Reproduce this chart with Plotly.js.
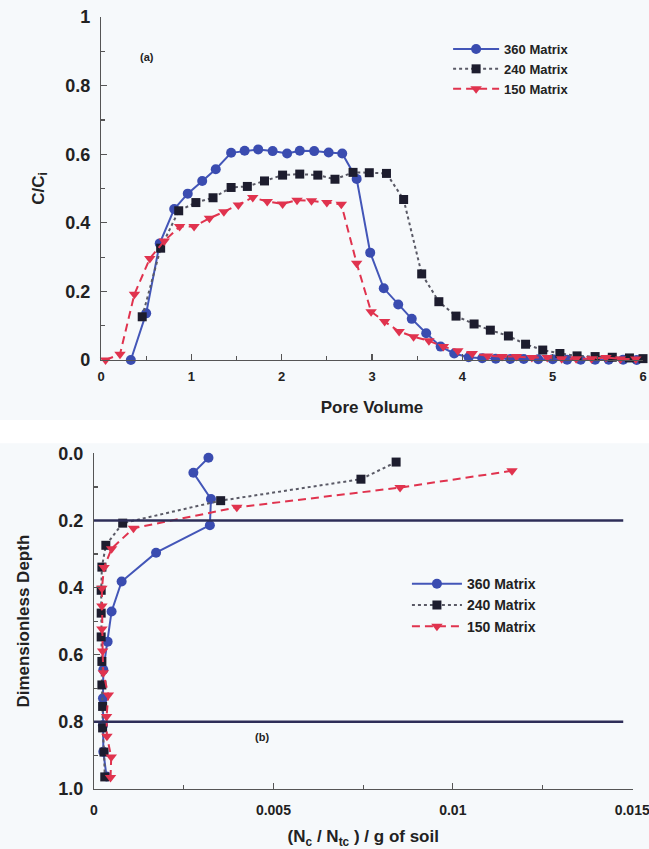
<!DOCTYPE html>
<html>
<head>
<meta charset="utf-8">
<script src="https://cdn.plot.ly/plotly-3.0.1.min.js"></script>
<style>html,body{margin:0;padding:0;background:#f6f9fb;}#chart{width:649px;height:849px;}</style>
</head>
<body>
<div id="chart"></div>
<script>
// ---- Panel (a): breakthrough curves ----
const series_names = ["360 Matrix", "240 Matrix", "150 Matrix"];

const a360_x = [0.33,0.5,0.65,0.81,0.96,1.12,1.27,1.44,1.59,1.74,1.9,2.06,2.2,2.36,2.52,2.67,2.83,2.98,3.13,3.29,3.44,3.6,3.76,3.91,4.07,4.22,4.37,4.53,4.68,4.84,5.0,5.16,5.31,5.47,5.62,5.78,5.93];
const a360_y = [0,0.136,0.34,0.44,0.485,0.522,0.556,0.604,0.61,0.614,0.609,0.602,0.61,0.609,0.605,0.602,0.528,0.313,0.209,0.162,0.12,0.078,0.039,0.019,0.008,0.005,0.004,0.003,0.003,0.002,0.002,0.001,0.001,0.001,0.001,0.001,0];

const a240_x = [0.456,0.66,0.86,1.05,1.24,1.44,1.62,1.81,2.01,2.2,2.4,2.59,2.79,2.97,3.16,3.35,3.55,3.74,3.93,4.13,4.31,4.51,4.70,4.89,5.08,5.27,5.47,5.66,5.85,6.0];
const a240_y = [0.126,0.326,0.435,0.459,0.473,0.503,0.506,0.522,0.539,0.542,0.539,0.527,0.547,0.546,0.544,0.468,0.251,0.17,0.128,0.105,0.087,0.07,0.046,0.029,0.019,0.012,0.01,0.008,0.006,0.004];

const a150_x = [0.05,0.21,0.37,0.54,0.70,0.87,1.03,1.2,1.36,1.52,1.68,1.84,2.01,2.17,2.33,2.5,2.66,2.83,2.99,3.14,3.30,3.46,3.63,3.79,3.95,4.11,4.28,4.44,4.6,4.77,4.94,5.1,5.26,5.43,5.59,5.75,5.92];
const a150_y = [0,0.017,0.192,0.296,0.347,0.389,0.389,0.413,0.432,0.452,0.474,0.462,0.455,0.466,0.464,0.459,0.454,0.282,0.141,0.112,0.083,0.068,0.056,0.039,0.027,0.019,0.012,0.01,0.01,0.007,0.007,0.004,0.004,0.004,0.007,0.003,0.003];

// ---- Panel (b): retained profile vs depth ----
const b360_depth = [0.013,0.058,0.136,0.214,0.296,0.382,0.471,0.561,0.645,0.73,0.81,0.889,0.963];
const b360_val   = [0.00319,0.00277,0.00326,0.00323,0.00173,0.00077,0.00049,0.00038,0.00026,0.00025,0.00025,0.00026,0.00035];

const b240_depth = [0.026,0.077,0.141,0.208,0.274,0.339,0.408,0.476,0.547,0.62,0.69,0.754,0.818,0.89,0.964];
const b240_val   = [0.00842,0.00744,0.00353,0.0008,0.00033,0.00022,0.0002,0.0002,0.0002,0.00022,0.00022,0.00024,0.00024,0.00028,0.0003];

const b150_depth = [0.052,0.102,0.161,0.223,0.284,0.34,0.402,0.455,0.523,0.589,0.654,0.72,0.784,0.843,0.905,0.966];
const b150_val   = [0.01165,0.00853,0.00398,0.0011,0.00049,0.00028,0.00022,0.00022,0.00022,0.00024,0.00026,0.0004,0.00035,0.00036,0.00048,0.00046];

const layer_depths = [0.2, 0.8];
const layer_x_end = 0.01475;
const b_ticks = [0, 0.005, 0.01, 0.015];
const b_ticktext = ["0", "0.005", "0.01", "0.015"];

// ---- styles ----
const FONT = "Liberation Sans, Arial, Helvetica, sans-serif";
const BLUE = "#3a4cb0", BLUE_LINE = "#4356b8";
const DARK = "#1d1d2e", DOT_LINE = "#5a5a66";
const RED = "#e0334e";
const AX = "#555555";

function axisBase(extra) {
  return Object.assign({
    showgrid: false, zeroline: false, showline: true, linecolor: AX, linewidth: 1.2,
    ticks: "inside", ticklen: 6, tickcolor: AX, tickwidth: 1.2,
    mirror: false, ticklabeloverflow: "allow",
    tickfont: {family: FONT, size: 18, color: "#222", weight: "bold"},
    title: {font: {family: FONT, size: 17, color: "#222", weight: "bold"}}
  }, extra);
}

const traces = [
  {x: a360_x, y: a360_y, name: series_names[0], xaxis: "x", yaxis: "y", mode: "lines+markers",
   line: {color: BLUE_LINE, width: 2}, marker: {color: BLUE, size: 10, symbol: "circle"}, cliponaxis: false, legend: "legend"},
  {x: a240_x, y: a240_y, name: series_names[1], xaxis: "x", yaxis: "y", mode: "lines+markers",
   line: {color: DOT_LINE, width: 2, dash: "dot"}, marker: {color: DARK, size: 9, symbol: "square"}, cliponaxis: false, legend: "legend"},
  {x: a150_x, y: a150_y, name: series_names[2], xaxis: "x", yaxis: "y", mode: "lines+markers",
   line: {color: RED, width: 2, dash: "8px,5px"}, marker: {color: RED, size: 10, symbol: "triangle-down"}, cliponaxis: false, legend: "legend"},

  {x: b360_val, y: b360_depth, name: series_names[0], xaxis: "x2", yaxis: "y2", mode: "lines+markers",
   line: {color: BLUE_LINE, width: 2}, marker: {color: BLUE, size: 10, symbol: "circle"}, cliponaxis: false, legend: "legend2"},
  {x: b240_val, y: b240_depth, name: series_names[1], xaxis: "x2", yaxis: "y2", mode: "lines+markers",
   line: {color: DOT_LINE, width: 2, dash: "dot"}, marker: {color: DARK, size: 9, symbol: "square"}, cliponaxis: false, legend: "legend2"},
  {x: b150_val, y: b150_depth, name: series_names[2], xaxis: "x2", yaxis: "y2", mode: "lines+markers",
   line: {color: RED, width: 2, dash: "8px,5px"}, marker: {color: RED, size: 10, symbol: "triangle-down"}, cliponaxis: false, legend: "legend2"}
];

const shapes = layer_depths.map(d => ({
  type: "line", xref: "x2", yref: "y2", x0: 0, x1: layer_x_end, y0: d, y1: d,
  line: {color: "#2e2e58", width: 2.5}, layer: "above"
}));
shapes.push({type: "rect", xref: "paper", yref: "paper", x0: -0.2, x1: 1.2, y0: 0.448, y1: 0.478,
  fillcolor: "#ffffff", line: {width: 0}, layer: "below"});

const layout = {
  width: 649, height: 849,
  margin: {l: 94, r: 6, t: 17, b: 60},
  paper_bgcolor: "#f6f9fb", plot_bgcolor: "rgba(0,0,0,0)",
  font: {family: FONT, color: "#222"},
  showlegend: true,
  xaxis: axisBase({domain: [0.0128, 1.0], anchor: "y", range: [0, 6], dtick: 1, tick0: 0,
    tickfont: {family: FONT, size: 13, color: "#222", weight: "bold"}, ticklabelstandoff: 4,
    minor: {dtick: 0.5, ticks: "inside", ticklen: 4, tickcolor: AX},
    title: {text: "Pore Volume", standoff: 18, font: {family: FONT, size: 17, color: "#222", weight: "bold"}}}),
  yaxis: axisBase({domain: [0.5557, 1.0], anchor: "x", range: [0, 1], dtick: 0.2, tick0: 0,
    ticklabelstandoff: 6,
    minor: {dtick: 0.1, ticks: "inside", ticklen: 4, tickcolor: AX},
    title: {text: "C/C<sub>i</sub>", standoff: 16, font: {family: FONT, size: 17, color: "#222", weight: "bold"}}}),
  xaxis2: axisBase({domain: [0, 0.981], anchor: "y2", range: [0, 0.01501], tickmode: "array",
    tickvals: b_ticks, ticktext: b_ticktext,
    tickfont: {family: FONT, size: 14, color: "#222", weight: "bold"}, ticklabelstandoff: 8,
    minor: {tickmode: "linear", tick0: 0, dtick: 0.0025, ticks: "inside", ticklen: 4, tickcolor: AX},
    title: {text: "(N<sub>c</sub> / N<sub>tc</sub> ) / g of soil", standoff: 14, font: {family: FONT, size: 17, color: "#222", weight: "bold"}}}),
  yaxis2: axisBase({domain: [0, 0.4348], anchor: "x2", range: [1, 0], dtick: 0.2, tick0: 0, tickformat: ".1f",
    ticklabelstandoff: 6,
    minor: {dtick: 0.1, ticks: "inside", ticklen: 4, tickcolor: AX},
    title: {text: "Dimensionless Depth", standoff: 24, font: {family: FONT, size: 17, color: "#222", weight: "bold"}}}),
  legend: {x: 0.645, y: 0.978, xanchor: "left", yanchor: "top", bgcolor: "rgba(0,0,0,0)", itemwidth: 46,
    font: {family: FONT, size: 13, color: "#222", weight: "bold"}, tracegroupgap: 0},
  legend2: {x: 0.57, y: 0.286, xanchor: "left", yanchor: "top", bgcolor: "rgba(0,0,0,0)", itemwidth: 50,
    font: {family: FONT, size: 14, color: "#222", weight: "bold"}, tracegroupgap: 0},
  shapes: shapes,
  annotations: [
    {text: "(a)", xref: "paper", yref: "paper", x: 0.08, y: 0.958, showarrow: false,
     font: {family: FONT, size: 11, color: "#222", weight: "bold"}},
    {text: "(b)", xref: "paper", yref: "paper", x: 0.2896, y: 0.057, showarrow: false,
     font: {family: FONT, size: 11, color: "#222", weight: "bold"}}
  ]
};

Plotly.newPlot("chart", traces, layout, {displayModeBar: false, staticPlot: true});
</script>
</body>
</html>
